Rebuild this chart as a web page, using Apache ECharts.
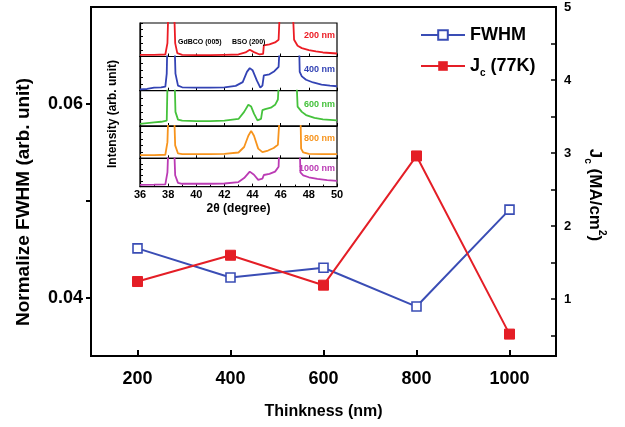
<!DOCTYPE html>
<html>
<head>
<meta charset="utf-8">
<script src="https://cdn.jsdelivr.net/npm/echarts@6/dist/echarts.min.js"></script>
<style>
  html, body { margin: 0; padding: 0; background: #fff; }
  #main { width: 625px; height: 427px; }
</style>
</head>
<body>
<div id="main"></div>
<script>
// main plot
var thickness = [200, 400, 600, 800, 1000];
var fwhm = [0.0451, 0.0421, 0.0431, 0.0391, 0.0491];
var jc = [1.24, 1.60, 1.19, 2.96, 0.52];
var xTicks = [200, 400, 600, 800, 1000];
var fwhmTicks = [0.04, 0.05, 0.06];
var fwhmLabels = [0.04, 0.06];
var jcTicks = [0.5, 1, 1.5, 2, 2.5, 3, 3.5, 4, 4.5, 5];
var jcLabels = [1, 2, 3, 4, 5];

// inset XRD scans: [2theta, intensity in panel units], peaks above 1 are cut off
var xrd200 = [[36,0.05],[37,0.05],[37.8,0.06],[37.95,0.4],[38.02,1.5],[38.42,1.5],[38.5,0.4],[38.65,0.1],[39,0.05],[40,0.04],[41,0.04],[42,0.05],[43,0.06],[43.5,0.12],[43.8,0.2],[44.1,0.13],[44.5,0.06],[44.75,0.08],[44.8,0.33],[45.2,0.36],[45.6,0.42],[45.85,0.5],[45.95,1.5],[46.85,1.5],[46.95,0.5],[47.2,0.32],[47.5,0.25],[48,0.19],[48.5,0.15],[49,0.12],[50,0.09]];
var xrd400 = [[36,0.04],[36.5,0.05],[37,0.09],[37.5,0.1],[37.8,0.12],[37.9,0.5],[37.95,1.5],[38.45,1.5],[38.52,0.5],[38.7,0.15],[39,0.1],[40,0.09],[41,0.09],[42,0.1],[42.8,0.14],[43.3,0.25],[43.6,0.55],[43.8,0.66],[44,0.6],[44.3,0.3],[44.55,0.09],[44.7,0.15],[44.8,0.45],[45.2,0.48],[45.55,0.57],[45.85,0.7],[45.95,1.5],[47.3,1.5],[47.35,0.55],[47.5,0.42],[47.8,0.32],[48.3,0.24],[48.9,0.18],[49.5,0.15],[50,0.13]];
var xrd600 = [[36,0.06],[37,0.1],[37.5,0.12],[37.9,0.15],[37.97,1.5],[38.45,1.5],[38.52,0.4],[38.7,0.18],[39,0.15],[40,0.14],[41,0.14],[42,0.15],[43,0.2],[43.4,0.4],[43.7,0.6],[43.9,0.55],[44.1,0.35],[44.35,0.16],[44.6,0.2],[44.7,0.45],[44.9,0.48],[45.3,0.52],[45.6,0.6],[45.8,0.75],[45.9,1.5],[47.1,1.5],[47.2,0.55],[47.5,0.4],[47.8,0.31],[48.4,0.23],[49,0.19],[50,0.16]];
var xrd800 = [[36,0.1],[37,0.1],[37.8,0.11],[37.95,0.5],[38.02,1.5],[38.42,1.5],[38.5,0.4],[38.7,0.15],[39,0.13],[40,0.13],[41,0.13],[42,0.14],[43,0.18],[43.4,0.35],[43.7,0.7],[43.9,0.85],[44.1,0.7],[44.4,0.3],[44.7,0.19],[45.1,0.24],[45.5,0.32],[45.8,0.42],[45.95,1.5],[47.4,1.5],[47.45,0.3],[47.6,0.18],[48,0.14],[49,0.13],[50,0.13]];
var xrd1000 = [[36,0.06],[37,0.07],[37.8,0.08],[37.95,0.5],[38.02,1.5],[38.42,1.5],[38.5,0.4],[38.7,0.13],[39,0.1],[40,0.1],[41,0.1],[42,0.11],[43,0.16],[43.4,0.3],[43.8,0.53],[44.1,0.42],[44.4,0.24],[44.7,0.28],[44.8,0.41],[45.2,0.45],[45.6,0.53],[45.85,0.7],[45.9,1.5],[47.35,1.5],[47.4,0.5],[47.6,0.4],[48,0.33],[48.6,0.27],[49.3,0.23],[50,0.2]];
var xrdScans = [xrd200, xrd400, xrd600, xrd800, xrd1000];
var scanNames = ['200 nm', '400 nm', '600 nm', '800 nm', '1000 nm'];

var FONT = "'Liberation Sans', Arial, sans-serif";
var BLUE = '#3a4db5';
var RED = '#e41e26';
var scanColors = ['#ec1c24', '#3343b4', '#45c23c', '#f7941d', '#bb3bb4'];

// panel boxes of the inset (px)
var insetLeft = 140, insetWidth = 197;
var panelTop = [23, 56.5, 90.7, 126, 158.3];
var panelBottom = [56.5, 90.7, 126, 158.3, 186.6];

var grids = [{ left: 91, right: 69, top: 7, bottom: 71, show: true, borderColor: '#000', borderWidth: 2 }];
var xAxes = [{
  type: 'value', gridIndex: 0, min: 100, max: 1100,
  name: 'Thinkness (nm)', nameLocation: 'middle', nameGap: 48,
  nameTextStyle: { fontFamily: FONT, fontWeight: 'bold', fontSize: 16, color: '#000' },
  axisLine: { lineStyle: { color: '#000', width: 2 } },
  axisTick: { inside: true, length: 6, customValues: xTicks, lineStyle: { color: '#000', width: 2 } },
  axisLabel: { customValues: xTicks, margin: 14, fontFamily: FONT, fontWeight: 'bold', fontSize: 18, color: '#000',
    formatter: function (v) { return String(v); } },
  splitLine: { show: false }
}];
var yAxes = [{
  type: 'value', gridIndex: 0, position: 'left', min: 0.034, max: 0.07,
  axisLine: { show: true, lineStyle: { color: '#000', width: 2 } },
  axisTick: { inside: false, length: 5, customValues: fwhmTicks, lineStyle: { color: '#000', width: 2 } },
  axisLabel: { customValues: fwhmLabels, margin: 8, fontFamily: FONT, fontWeight: 'bold', fontSize: 18, color: '#000',
    formatter: function (v) { return v.toFixed(2); } },
  splitLine: { show: false }
}, {
  type: 'value', gridIndex: 0, position: 'right', min: 0.22, max: 5,
  axisLine: { show: true, lineStyle: { color: '#000', width: 2 } },
  axisTick: { inside: true, length: 5, customValues: jcTicks, lineStyle: { color: '#000', width: 1.5 } },
  axisLabel: { customValues: jcLabels, margin: 8, fontFamily: FONT, fontWeight: 'bold', fontSize: 13, color: '#000' },
  splitLine: { show: false }
}];

var series = [{
  name: 'FWHM', type: 'line', xAxisIndex: 0, yAxisIndex: 0,
  data: thickness.map(function (t, i) { return [t, fwhm[i]]; }),
  symbol: 'rect', symbolSize: 9,
  itemStyle: { color: '#fff', borderColor: BLUE, borderWidth: 1.6 },
  lineStyle: { color: BLUE, width: 2 }, z: 3
}, {
  name: 'Jc (77K)', type: 'line', xAxisIndex: 0, yAxisIndex: 1,
  data: thickness.map(function (t, i) { return [t, jc[i]]; }),
  symbol: 'rect', symbolSize: 10,
  itemStyle: { color: RED, borderColor: RED },
  lineStyle: { color: RED, width: 2 }, z: 3
}];

var graphics = [];
for (var i = 0; i < xrdScans.length; i++) {
  var last = i === xrdScans.length - 1;
  grids.push({ left: insetLeft, width: insetWidth, top: panelTop[i], height: panelBottom[i] - panelTop[i],
    show: true, backgroundColor: '#fff', borderColor: '#000', borderWidth: 1.2 });
  xAxes.push({
    type: 'value', gridIndex: i + 1, min: 36, max: 50, interval: 2,
    name: last ? '2\u03b8 (degree)' : '', nameLocation: 'middle', nameGap: 16,
    nameTextStyle: { fontFamily: FONT, fontWeight: 'bold', fontSize: 12, color: '#000' },
    axisLine: { lineStyle: { color: '#000', width: 1.2 } },
    axisTick: { inside: true, length: 3, lineStyle: { color: '#000' } },
    minorTick: { show: last, splitNumber: 2, length: 2, lineStyle: { color: '#000' } },
    axisLabel: { show: last, margin: 3, fontFamily: FONT, fontWeight: 'bold', fontSize: 11, color: '#000' },
    splitLine: { show: false }
  });
  yAxes.push({
    type: 'value', gridIndex: i + 1, min: 0, max: 1, interval: 0.2,
    axisLine: { show: true, lineStyle: { color: '#000', width: 1.2 } },
    axisTick: { show: true, inside: true, length: 3, lineStyle: { color: '#000' } },
    axisLabel: { show: false },
    splitLine: { show: false }
  });
  series.push({
    name: scanNames[i], type: 'line', xAxisIndex: i + 1, yAxisIndex: i + 2,
    data: xrdScans[i], showSymbol: false, clip: true,
    lineStyle: { color: scanColors[i], width: 1.8 }, itemStyle: { color: scanColors[i] }, z: 4
  });
  graphics.push({
    type: 'text', x: 335, y: (panelTop[i] + panelBottom[i]) / 2 - 4, z: 10,
    style: { text: scanNames[i], fill: scanColors[i], font: 'bold 9px ' + FONT, align: 'right', verticalAlign: 'middle' }
  });
}

graphics.push(
  { type: 'text', x: 178, y: 42, z: 10, style: { text: 'GdBCO (005)', fill: '#000', font: 'bold 7px ' + FONT, align: 'left', verticalAlign: 'middle' } },
  { type: 'text', x: 232, y: 42, z: 10, style: { text: 'BSO (200)', fill: '#000', font: 'bold 7px ' + FONT, align: 'left', verticalAlign: 'middle' } },
  { type: 'text', x: 113, y: 114, rotation: Math.PI / 2, z: 10,
    style: { text: 'Intensity (arb. unit)', fill: '#000', font: 'bold 12px ' + FONT, align: 'center', verticalAlign: 'middle' } },
  { type: 'text', x: 24, y: 202, rotation: Math.PI / 2, z: 10,
    style: { text: 'Normalize FWHM (arb. unit)', fill: '#000', font: 'bold 19px ' + FONT, align: 'center', verticalAlign: 'middle' } },
  { type: 'text', x: 595, y: 195, rotation: -Math.PI / 2, z: 10,
    style: { text: '{b|J}{s|c}{b| (MA/cm}{p|2}{b|)}', fill: '#000', align: 'center', verticalAlign: 'middle',
      rich: {
        b: { fontFamily: FONT, fontWeight: 'bold', fontSize: 17, lineHeight: 24 },
        s: { fontFamily: FONT, fontWeight: 'bold', fontSize: 10, lineHeight: 24, verticalAlign: 'bottom' },
        p: { fontFamily: FONT, fontWeight: 'bold', fontSize: 10, lineHeight: 24, verticalAlign: 'top' }
      } } }
);

var chart = echarts.init(document.getElementById('main'));
chart.setOption({
  animation: false,
  backgroundColor: '#fff',
  grid: grids,
  xAxis: xAxes,
  yAxis: yAxes,
  legend: {
    data: ['FWHM', 'Jc (77K)'],
    orient: 'vertical', left: 415, top: 21, itemGap: 13,
    itemWidth: 44, itemHeight: 12,
    formatter: function (name) {
      return name === 'FWHM' ? '{b|FWHM}' : '{b|J}{s|c}{b| (77K)}';
    },
    textStyle: {
      color: '#000',
      rich: {
        b: { fontFamily: FONT, fontWeight: 'bold', fontSize: 18, lineHeight: 24 },
        s: { fontFamily: FONT, fontWeight: 'bold', fontSize: 10, lineHeight: 24, verticalAlign: 'bottom' }
      }
    }
  },
  graphic: graphics,
  series: series
});
</script>
</body>
</html>
